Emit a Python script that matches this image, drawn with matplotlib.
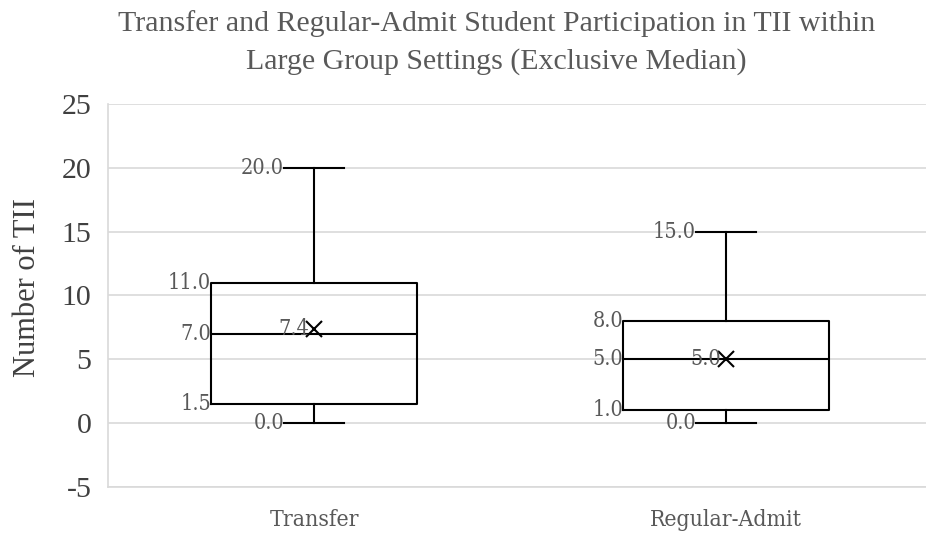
import matplotlib
matplotlib.use("Agg")
import matplotlib.pyplot as plt

# chart values
groups = ["Transfer", "Regular-Admit"]
mins = [0.0, 0.0]
q1s = [1.5, 1.0]
medians = [7.0, 5.0]
q3s = [11.0, 8.0]
maxs = [20.0, 15.0]
means = [7.4, 5.0]
yticks = [-5, 0, 5, 10, 15, 20, 25]

label_color = "#595959"
grid_color = "#d9d9d9"
lab_font = dict(family="DejaVu Serif", stretch="condensed", color=label_color, fontsize=15.5)

fig = plt.figure(figsize=(9.26, 5.35), dpi=100)
ax = fig.add_axes([0.1166, 0.0897, 0.8834, 0.716])

stats = []
for i, g in enumerate(groups):
    stats.append(dict(label=g, whislo=mins[i], q1=q1s[i], med=medians[i],
                      q3=q3s[i], whishi=maxs[i], mean=means[i], fliers=[]))

pos = list(range(len(groups)))
ax.bxp(stats, positions=pos, widths=0.5, showmeans=True, capwidths=0.146,
       boxprops=dict(color="black", linewidth=1.5),
       whiskerprops=dict(color="black", linewidth=1.5),
       capprops=dict(color="black", linewidth=1.5),
       medianprops=dict(color="black", linewidth=1.5),
       meanprops=dict(marker="x", markeredgecolor="black", markersize=12, markeredgewidth=1.5))

# value labels
for i in pos:
    bl = i - 0.25
    cl = i - 0.073
    ax.text(cl, maxs[i], f"{maxs[i]:.1f}", ha="right", va="center", **lab_font)
    ax.text(cl, mins[i], f"{mins[i]:.1f}", ha="right", va="center", **lab_font)
    ax.text(bl, q3s[i], f"{q3s[i]:.1f}", ha="right", va="center", **lab_font)
    ax.text(bl, medians[i], f"{medians[i]:.1f}", ha="right", va="center", **lab_font)
    ax.text(bl, q1s[i], f"{q1s[i]:.1f}", ha="right", va="center", **lab_font)
    ax.text(i - 0.012, means[i], f"{means[i]:.1f}", ha="right", va="center", **lab_font)

ax.set_xlim(-0.5, 1.485)
ax.set_ylim(-5, 25)
ax.set_yticks(yticks)
ax.set_yticklabels([str(t) for t in yticks], family="Liberation Serif", fontsize=21.5, color="#404040")
ax.set_xticks(pos)
ax.set_xticklabels(groups, family="DejaVu Serif", stretch="condensed", fontsize=16.5, color=label_color)
ax.tick_params(axis="both", length=0)
ax.tick_params(axis="x", pad=16)
ax.tick_params(axis="y", pad=12)
ax.yaxis.grid(True, color=grid_color, linewidth=1.2)
ax.set_axisbelow(True)
for s in ["top", "right"]:
    ax.spines[s].set_visible(False)
for s in ["left", "bottom"]:
    ax.spines[s].set_color(grid_color)
    ax.spines[s].set_linewidth(1.2)

ax.set_ylabel("Number of TII", family="Liberation Serif", fontsize=22, color="#404040")
ax.yaxis.set_label_coords(-0.081, 0.522)
fig.text(0.536, 1 - 10 / 535, "Transfer and Regular-Admit Student Participation in TII within\nLarge Group Settings (Exclusive Median)",
         ha="center", va="top", family="Liberation Serif", fontsize=21.5, color="#595959", linespacing=1.55)

fig.savefig("out.png", dpi=100)
